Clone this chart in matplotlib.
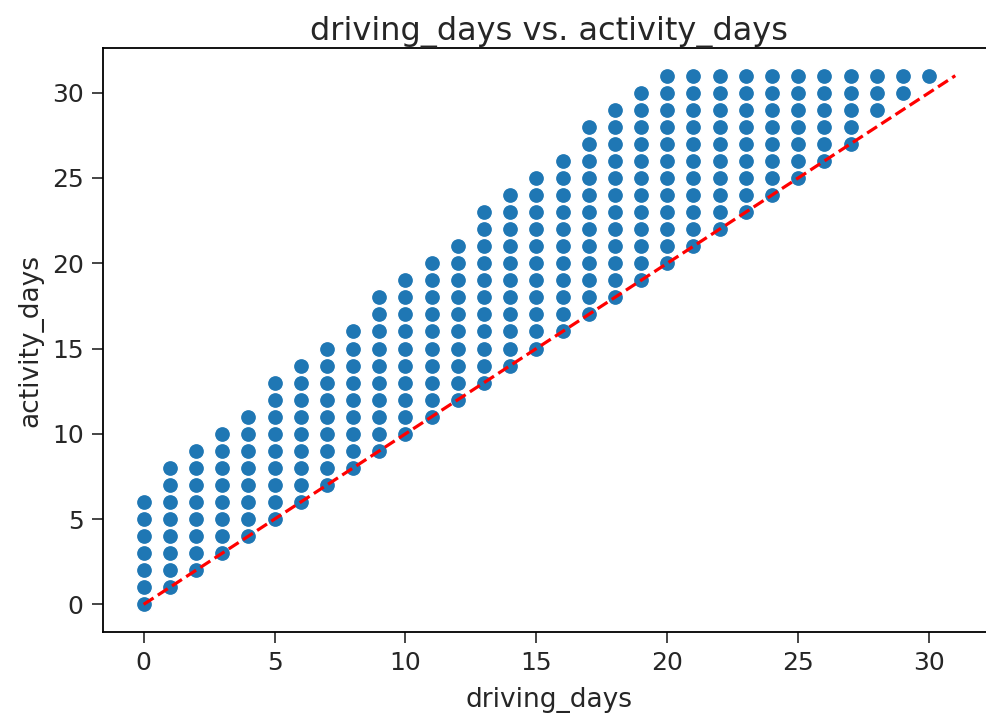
import numpy as np
import matplotlib.pyplot as plt

# each driving_days value has a run of activity_days from lo to hi
driving_days = list(range(0, 31))
activity_lo = [0, 1, 2, 3, 4, 5, 6, 7, 8, 9, 10, 11, 12, 13, 14, 15, 16, 17, 18, 19,
               20, 21, 22, 23, 24, 25, 26, 27, 29, 30, 31]
activity_hi = [6, 8, 9, 10, 11, 13, 14, 15, 16, 18, 19, 20, 21, 23, 24, 25, 26, 28, 29, 30,
               31, 31, 31, 31, 31, 31, 31, 31, 31, 31, 31]

xs = []
ys = []
for d, lo, hi in zip(driving_days, activity_lo, activity_hi):
    for a in range(lo, hi + 1):
        xs.append(d)
        ys.append(a)

plt.rcParams['text.color'] = '#262626'
plt.rcParams['axes.labelcolor'] = '#262626'
plt.rcParams['xtick.color'] = '#262626'
plt.rcParams['ytick.color'] = '#262626'

fig = plt.figure(figsize=(9.86, 7.21), dpi=100)
ax = fig.add_axes([0.1045, 0.1234, 0.9055, 0.81])

ax.scatter(xs, ys, s=135, color='#1f77b4', edgecolors='white', linewidths=1.0, zorder=2)
ax.plot([0, 31], [0, 31], color='red', linestyle='--', linewidth=2.3, zorder=3)

ax.set_xlim(-1.55, 32.55)
ax.set_ylim(-1.62, 32.62)
ax.set_xticks(np.arange(0, 31, 5))
ax.set_yticks(np.arange(0, 31, 5))
ax.tick_params(labelsize=18, length=8, width=1.2, pad=6)
for sp in ax.spines.values():
    sp.set_linewidth(1.3)
ax.set_xlabel('driving_days', fontsize=19, labelpad=8)
ax.set_ylabel('activity_days', fontsize=19, labelpad=6)
ax.set_title('driving_days vs. activity_days', fontsize=23, pad=6)

fig.savefig('out.png', dpi=100)
